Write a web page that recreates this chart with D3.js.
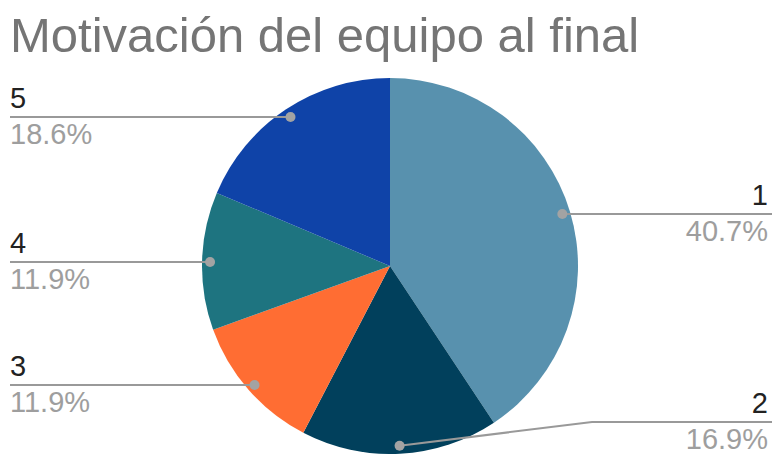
<!DOCTYPE html>
<html>
<head>
<meta charset="utf-8">
<script src="https://cdn.jsdelivr.net/npm/d3@7"></script>
<style>
  body { margin: 0; background: #fff; }
  svg { display: block; font-family: Arial, 'Liberation Sans', sans-serif; }
</style>
</head>
<body>
<div id="chart"></div>
<script>
const categories = ['1', '2', '3', '4', '5']
const counts     = [24, 10, 7, 7, 11]
const colors     = ['#5891ae', '#01405c', '#ff6d33', '#1e7480', '#0f43a8']
const title      = 'Motivación del equipo al final'

const width = 772, height = 454
const cx = 390, cy = 266, radius = 188, dotRadius = 180

const svg = d3.select('#chart').append('svg').attr('width', width).attr('height', height)

svg.append('text')
  .attr('x', 10).attr('y', 52)
  .style('font-size', '49px').style('fill', '#757575')
  .text(title)

const total = d3.sum(counts)
const pie  = d3.pie().sort(null).value(d => d)
const arcs = pie(counts)
const arc  = d3.arc().innerRadius(0).outerRadius(radius)

const g = svg.append('g').attr('transform', 'translate(' + cx + ',' + cy + ')')
g.selectAll('path').data(arcs).enter().append('path')
  .attr('d', arc)
  .attr('fill', (d, i) => colors[i])

// label anchor points on each slice
function dotPos(d) {
  const a = (d.startAngle + d.endAngle) / 2
  return [cx + dotRadius * Math.sin(a), cy - dotRadius * Math.cos(a)]
}

// label rows: right side for slices 1 and 2, left side for the others
const labelY = [214, 422, 385, 262, 117]
const rightSide = [true, true, false, false, false]

arcs.forEach((d, i) => {
  const [px, py] = dotPos(d)
  const ly = labelY[i]
  const right = rightSide[i]
  const endX = right ? width : 10
  let pts
  if (Math.abs(py - ly) < 4) {
    pts = [[px, ly], [endX, ly]]
  } else {
    const bendX = right ? 592 : 180
    pts = [[px, py], [bendX, ly], [endX, ly]]
  }
  svg.append('path')
    .attr('d', d3.line()(pts))
    .attr('fill', 'none').attr('stroke', '#999').attr('stroke-width', 2)
  svg.append('circle')
    .attr('cx', px).attr('cy', Math.abs(py - ly) < 4 ? ly : py).attr('r', 5)
    .attr('fill', '#a3a3a3')

  const tx = right ? 768 : 10
  const anchor = right ? 'end' : 'start'
  svg.append('text')
    .attr('x', tx).attr('y', ly - 9)
    .attr('text-anchor', anchor)
    .style('font-size', '29px').style('fill', '#222')
    .text(categories[i])
  svg.append('text')
    .attr('x', tx).attr('y', ly + 27)
    .attr('text-anchor', anchor)
    .style('font-size', '29px').style('fill', '#9e9e9e')
    .text((counts[i] / total * 100).toFixed(1) + '%')
})
</script>
</body>
</html>
